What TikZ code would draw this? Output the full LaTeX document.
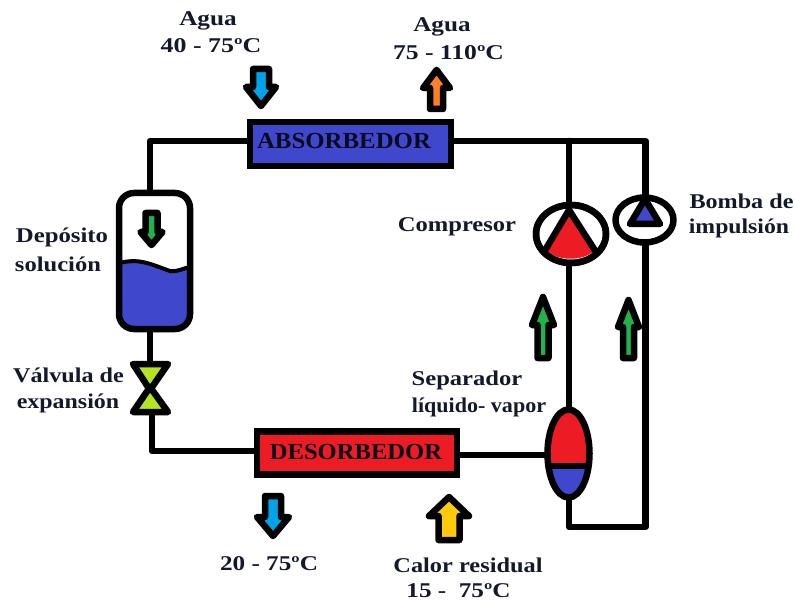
\documentclass[tikz,border=0pt]{standalone}
\usepackage{fontspec}
\setmainfont{Liberation Serif}
\definecolor{blueF}{HTML}{3F48CC}
\definecolor{redF}{HTML}{ED1C24}
\definecolor{skyF}{HTML}{00A2E8}
\definecolor{orangeF}{HTML}{FF7F27}
\definecolor{greenF}{HTML}{22B14C}
\definecolor{yellowF}{HTML}{FFC90E}
\definecolor{limeF}{HTML}{B5E61D}
\definecolor{inkT}{HTML}{14182C}
\tikzset{
  pipe/.style={line width=6.5pt,line join=round,line cap=round},
  thing/.style={draw=black,line width=6.5pt,line join=round},
  boxn/.style={draw=black,line width=6.5pt,inner sep=0pt,anchor=center},
  lab/.style={font=\bfseries\fontsize{21}{21}\selectfont,text=inkT,inner sep=0pt,anchor=center},
  tag/.style={font=\bfseries\fontsize{23}{23}\selectfont,text=black!85!blueF,inner sep=0pt,anchor=center},
}
\newcommand{\stt}[2]{\scalebox{#1}[1]{#2}}
% x, tip y, base y, head half-width, shaft half-width, head-base y, fill
\newcommand{\blockarrow}[7]{%
  \draw[line width=6.5pt,line join=round,draw=black,fill=#7]
    (#1-#5,#3) -- (#1-#5,#6) -- (#1-#4,#6) -- (#1,#2) -- (#1+#4,#6) -- (#1+#5,#6) -- (#1+#5,#3) -- cycle;}
\begin{document}
\begin{tikzpicture}[x=1pt,y=-1pt]
\useasboundingbox (0,0) rectangle (794,601);
% equipment nodes
\node[boxn,fill=blueF,minimum width=201pt,minimum height=44pt] (abs) at (350.5,144) {};
\node[tag] (absT) at (344,141) {\stt{1.08}{ABSORBEDOR}};
\node[boxn,fill=redF,minimum width=200pt,minimum height=43pt] (des) at (357,453) {};
\node[tag] (desT) at (356,452) {\stt{1.07}{DESORBEDOR}};
% coordinates of junctions
\coordinate (tl) at (150,141);
\coordinate (tanktop) at (150,192);
\coordinate (tankbot) at (150,330);
\coordinate (valtop) at (150,365);
\coordinate (valbot) at (152,412);
\coordinate (bl) at (152,451);
\coordinate (absR) at (451,141);
\coordinate (j1) at (569,141);
\coordinate (tr) at (645.5,141);
\coordinate (compT) at (569,204);
\coordinate (compB) at (569,264);
\coordinate (sepT) at (569,410);
\coordinate (sepB) at (569,498);
\coordinate (desR) at (457,455);
\coordinate (sepL) at (547,455);
\coordinate (br) at (645.5,527);
\coordinate (brl) at (569,527);
\coordinate (pumpT) at (645.5,198);
\coordinate (pumpA) at (645.5,230);
% pipes
\draw[pipe] (abs.west |- tl) -- (tl) -- (tanktop);
\draw[pipe] (tankbot) -- (valtop);
\draw[pipe] (valbot) -- (bl) -- (bl -| des.west);
\draw[pipe] (absR) -- (tr) -- (pumpT);
\draw[pipe] (j1) -- (compT);
\draw[pipe] (compB) -- (sepT);
\draw[pipe] (desR) -- (sepL);
\draw[pipe] (sepB) -- (brl) -- (br) -- (pumpA);
% tank
\fill[blueF] (119,263) .. controls (140,258) and (150,264) .. (170,271) .. controls (178,272) and (184,268) .. (190,267)
  -- (190,310) .. controls (190,322) and (184,329) .. (172,329) -- (137,329) .. controls (125,329) and (119,322) .. (119,310) -- cycle;
\draw[line width=4pt] (119,263) .. controls (140,258) and (150,264) .. (170,271) .. controls (178,272) and (184,268) .. (190,267);
\draw[thing,rounded corners=15pt] (119,193) rectangle (190,329);
\blockarrow{151.5}{245}{213}{11}{6}{232}{greenF}
% valve
\draw[thing,fill=limeF] (133,364) -- (168,364) -- (150,390) -- cycle;
\draw[thing,fill=limeF] (133,412) -- (168,412) -- (150,387) -- cycle;
% compressor
\draw[thing,fill=white] (571,234) ellipse (35 and 29);
\fill[redF] (569,213) -- (545,249) .. controls (556,262) and (585,262) .. (596,249) -- cycle;
\draw[thing,line join=miter] (544,252) -- (569,210) -- (596,252);
\draw[thing] (571,234) ellipse (35 and 29);
% pump
\draw[thing,fill=white] (644.5,220) ellipse (29 and 22.5);
\draw[thing,fill=blueF] (645,199) -- (630,224) -- (660,224) -- cycle;
% separator
\fill[redF] (568.5,453.5) ellipse (21 and 44);
\begin{scope}
\clip (540,466) rectangle (600,505);
\fill[blueF] (568.5,453.5) ellipse (21 and 44);
\end{scope}
\draw[thing] (568.5,453.5) ellipse (21 and 44);
\draw[line width=6.5pt] (547,466) -- (590,466);
% arrows
\blockarrow{261}{106}{69}{15}{8}{87}{skyF}
\blockarrow{436.5}{70}{109}{13.5}{6.5}{88}{orangeF}
\blockarrow{543}{297}{358}{11}{5.5}{325}{greenF}
\blockarrow{628.5}{300}{358}{10.5}{5.5}{327}{greenF}
\blockarrow{273}{536}{496}{16}{8}{517}{skyF}
\blockarrow{449}{497}{540}{20}{10.5}{516}{yellowF}
% labels
\node[lab] (t1) at (208,21) {\stt{1.2}{Agua}};
\node[lab] (t2) at (211,46) {\stt{1.235}{40 - 75ºC}};
\node[lab] (t3) at (442,27) {\stt{1.2}{Agua}};
\node[lab] (t4) at (448.5,53) {\stt{1.22}{75 - 110ºC}};
\node[lab] (t5) at (62,237) {\stt{1.18}{Depósito}};
\node[lab] (t6) at (58,264) {\stt{1.17}{solución}};
\node[lab] (t7) at (457,227) {\stt{1.17}{Compresor}};
\node[lab] (t8) at (741.5,201) {\stt{1.15}{Bomba de}};
\node[lab] (t9) at (739,228) {\stt{1.13}{impulsión}};
\node[lab] (t10) at (68.5,375) {\stt{1.15}{Válvula de}};
\node[lab] (t11) at (68,403) {\stt{1.14}{expansión}};
\node[lab] (t12) at (467,380) {\stt{1.17}{Separador}};
\node[lab] (t13) at (479,407) {\stt{1.05}{líquido- vapor}};
\node[lab] (t14) at (269,564) {\stt{1.2}{20 - 75ºC}};
\node[lab] (t15) at (468,565) {\stt{1.16}{Calor residual}};
\node[lab] (t16) at (458.5,591) {\stt{1.2}{15 -\ \ 75ºC}};
\end{tikzpicture}
\end{document}
